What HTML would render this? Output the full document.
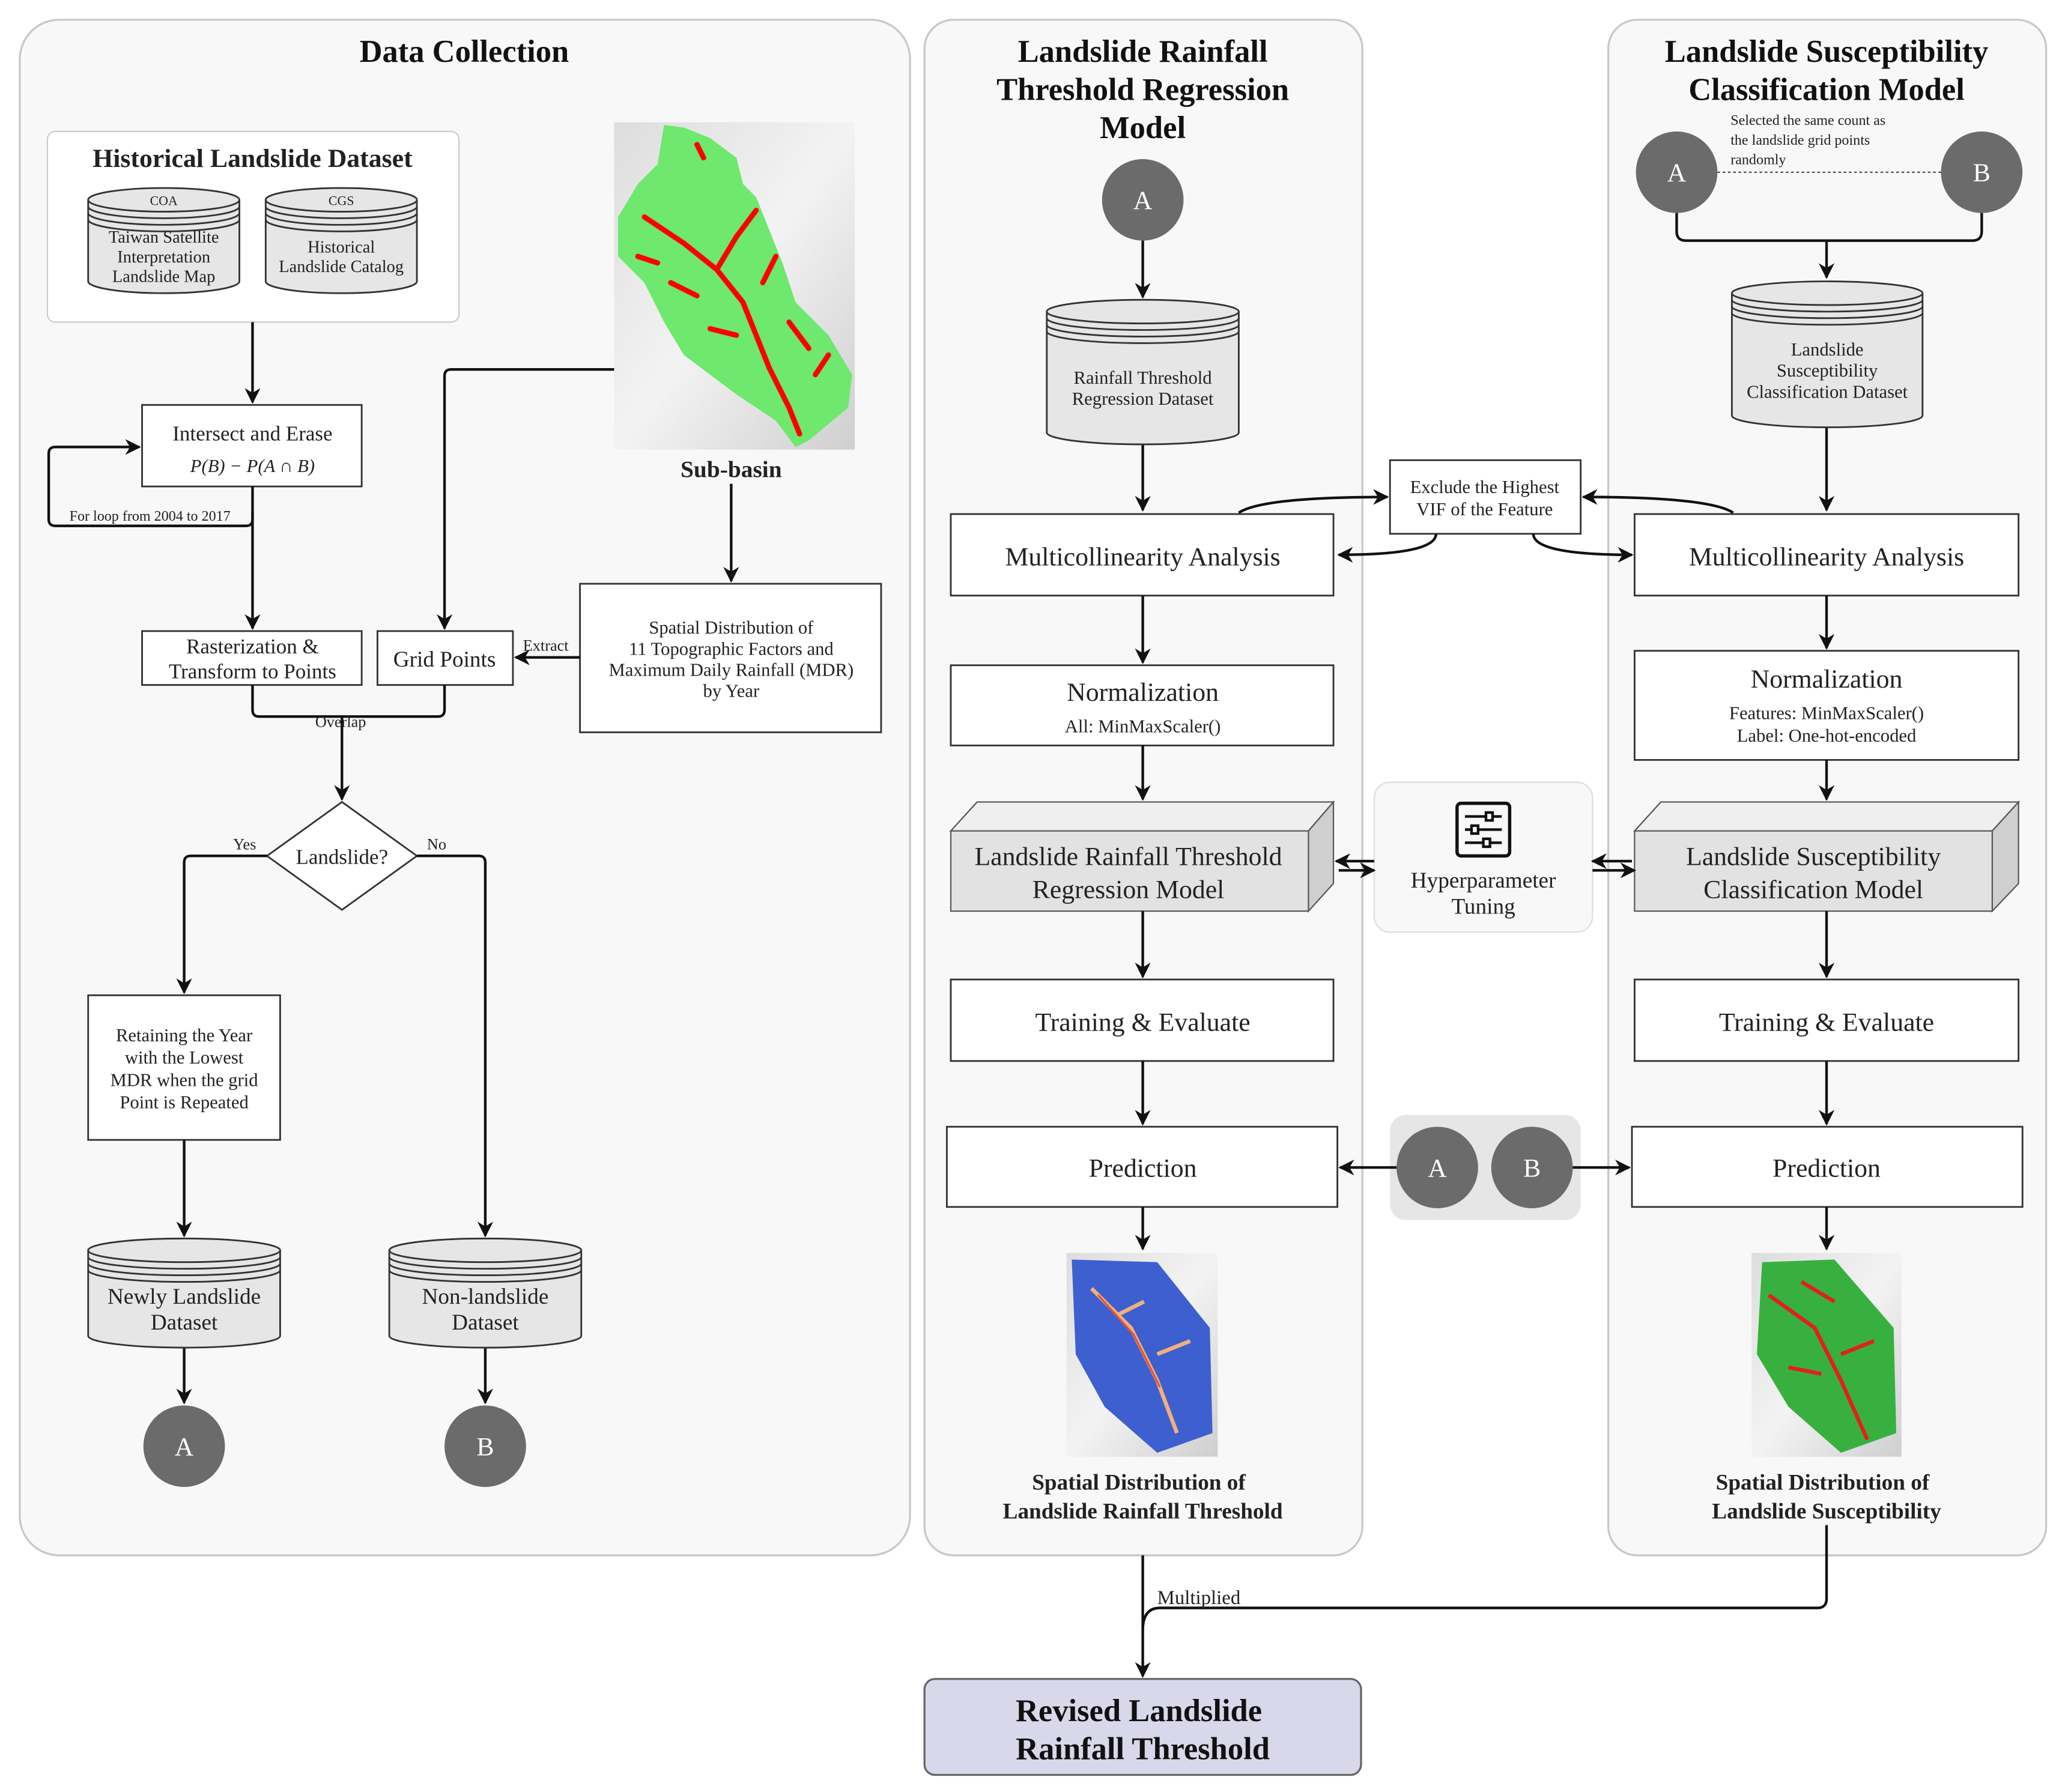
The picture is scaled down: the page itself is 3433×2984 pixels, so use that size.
<!DOCTYPE html>
<html><head><meta charset="utf-8"><style>
html,body{margin:0;padding:0;background:#fff}
svg{display:block}
text{font-family:"Liberation Serif",serif;fill:#222}
.t{font-weight:bold;font-size:24px;text-anchor:middle;fill:#111}
.m{font-size:20px;text-anchor:middle}
.s{font-size:14px;text-anchor:middle}
.xs{font-size:12px;text-anchor:middle}
.b{fill:#fff;stroke:#333;stroke-width:1.3}
.l{fill:none;stroke:#111;stroke-width:2}
.c{fill:#6b6b6b}
.ct{fill:#fff;font-size:20px;text-anchor:middle}
</style></head><body>
<svg width="3433" height="2984" viewBox="0 0 1568 1363" xmlns="http://www.w3.org/2000/svg">
<defs>
<marker id="a" viewBox="0 0 10 10" refX="9" refY="5" markerWidth="6" markerHeight="6" orient="auto-start-reverse"><path d="M0,0 L10,5 L0,10 L3,5z" fill="#111"/></marker>
<linearGradient id="g" x1="0" y1="0" x2="1" y2="1"><stop offset="0" stop-color="#ddd"/><stop offset="0.5" stop-color="#f3f3f3"/><stop offset="1" stop-color="#cfcfcf"/></linearGradient>
</defs>
<!-- panels -->
<rect x="15" y="15" width="677" height="1168" rx="30" fill="#f8f8f8" stroke="#c8c8c8" stroke-width="1.5"/>
<rect x="703" y="15" width="333" height="1168" rx="22" fill="#f8f8f8" stroke="#c8c8c8" stroke-width="1.5"/>
<rect x="1223" y="15" width="333" height="1168" rx="22" fill="#f8f8f8" stroke="#c8c8c8" stroke-width="1.5"/>
<text class="t" x="353" y="47">Data Collection</text>
<text class="t" x="869" y="47">Landslide Rainfall</text>
<text class="t" x="869" y="76">Threshold Regression</text>
<text class="t" x="869" y="105">Model</text>
<text class="t" x="1389" y="47">Landslide Susceptibility</text>
<text class="t" x="1389" y="76">Classification Model</text>

<!-- historical -->
<rect x="36" y="100" width="313" height="145" rx="6" fill="#fff" stroke="#ccc"/>
<text x="192" y="127" style="font-weight:bold;font-size:20px;text-anchor:middle">Historical Landslide Dataset</text>
<g id="cyls"></g>

<!-- sub-basin image -->
<rect x="467" y="93" width="183" height="249" fill="url(#g)"/>
<path d="M505,95 L520,97 L540,105 L560,120 L565,140 L575,150 L585,175 L595,200 L605,230 L630,255 L648,285 L645,310 L615,335 L605,340 L590,320 L560,300 L540,285 L520,270 L505,245 L490,215 L470,195 L470,165 L485,140 L500,125 Z" fill="#6ee86e"/>
<g stroke="#f00" stroke-width="4" fill="none" stroke-linecap="round">
<path d="M490,165 L520,185 L545,205 L565,230 L575,255 L585,280 L600,310 L608,330"/>
<path d="M545,205 L560,180 L575,160"/><path d="M510,215 L530,225"/><path d="M600,245 L615,265"/>
<path d="M540,250 L560,255"/><path d="M580,215 L590,195"/><path d="M620,285 L630,270"/>
<path d="M530,110 L535,120"/><path d="M485,195 L500,200"/>
</g>
<text x="556" y="363" style="font-weight:bold;font-size:18px;text-anchor:middle">Sub-basin</text>

<!-- boxes left -->
<rect class="b" x="108" y="308" width="167" height="62"/>
<text class="s" x="192" y="335" style="font-size:16px">Intersect and Erase</text>
<text class="s" x="192" y="359" style="font-style:italic">P(B) − P(A ∩ B)</text>
<rect class="b" x="108" y="480" width="167" height="41"/>
<text class="s" x="192" y="497" style="font-size:16px">Rasterization &amp;</text>
<text class="s" x="192" y="516" style="font-size:16px">Transform to Points</text>
<rect class="b" x="287" y="480" width="103" height="41"/>
<text class="s" x="338" y="507" style="font-size:17px">Grid Points</text>
<rect class="b" x="441" y="444" width="229" height="113"/>
<text class="s" x="556" y="482">Spatial Distribution of</text>
<text class="s" x="556" y="498">11 Topographic Factors and</text>
<text class="s" x="556" y="514">Maximum Daily Rainfall (MDR)</text>
<text class="s" x="556" y="530">by Year</text>
<polygon points="260,610 317,651 260,692 203,651" fill="#fff" stroke="#333" stroke-width="1.3"/>
<text class="s" x="260" y="657" style="font-size:16px">Landslide?</text>
<rect class="b" x="67" y="757" width="146" height="110"/>
<text class="s" x="140" y="792">Retaining the Year</text>
<text class="s" x="140" y="809">with the Lowest</text>
<text class="s" x="140" y="826">MDR when the grid</text>
<text class="s" x="140" y="843">Point is Repeated</text>

<!-- left connectors -->
<path class="l" d="M192,245 V306" marker-end="url(#a)"/>
<path class="l" d="M192,370 V478" marker-end="url(#a)"/>
<path class="l" d="M192,390 V395 Q192,400 187,400 H42 Q37,400 37,395 V345 Q37,340 42,340 H106" marker-end="url(#a)"/>
<text class="xs" x="114" y="396" style="font-size:11px">For loop from 2004 to 2017</text>
<path class="l" d="M467,281 H343 Q338,281 338,286 V478" marker-end="url(#a)"/>
<path class="l" d="M556,368 V442" marker-end="url(#a)"/>
<path class="l" d="M441,500 H392" marker-end="url(#a)"/>
<text class="xs" x="415" y="495">Extract</text>
<path class="l" d="M192,521 V540 Q192,545 197,545 H333 Q338,545 338,540 V521"/>
<path class="l" d="M260,545 V608" marker-end="url(#a)"/>
<text class="xs" x="259" y="553">Overlap</text>
<path class="l" d="M203,651 H145 Q140,651 140,656 V755" marker-end="url(#a)"/>
<text class="xs" x="186" y="646">Yes</text>
<path class="l" d="M317,651 H364 Q369,651 369,656 V940" marker-end="url(#a)"/>
<text class="xs" x="332" y="646">No</text>
<path class="l" d="M140,867 V940" marker-end="url(#a)"/>
<path class="l" d="M140,1025 V1067" marker-end="url(#a)"/>
<path class="l" d="M369,1025 V1067" marker-end="url(#a)"/>
<circle class="c" cx="140" cy="1100" r="31"/><text class="ct" x="140" y="1107">A</text>
<circle class="c" cx="369" cy="1100" r="31"/><text class="ct" x="369" y="1107">B</text>

<!-- middle -->
<circle class="c" cx="869" cy="152" r="31"/><text class="ct" x="869" y="159">A</text>
<path class="l" d="M869,183 V226" marker-end="url(#a)"/>
<path class="l" d="M869,338 V388" marker-end="url(#a)"/>
<rect class="b" x="723" y="391" width="291" height="62"/>
<text class="m" x="869" y="430">Multicollinearity Analysis</text>
<path class="l" d="M869,453 V504" marker-end="url(#a)"/>
<rect class="b" x="723" y="506" width="291" height="61"/>
<text class="m" x="869" y="533">Normalization</text>
<text class="s" x="869" y="557">All: MinMaxScaler()</text>
<path class="l" d="M869,567 V608" marker-end="url(#a)"/>
<polygon points="723,632 743,610 1014,610 995,632" fill="#efefef" stroke="#555"/>
<polygon points="995,632 1014,610 1014,672 995,693" fill="#cfcfcf" stroke="#555"/>
<rect x="723" y="632" width="272" height="61" fill="#e2e2e2" stroke="#555"/>
<text class="m" x="858" y="658">Landslide Rainfall Threshold</text>
<text class="m" x="858" y="683">Regression Model</text>
<path class="l" d="M869,693 V743" marker-end="url(#a)"/>
<rect class="b" x="723" y="745" width="291" height="62"/>
<text class="m" x="869" y="784">Training &amp; Evaluate</text>
<path class="l" d="M869,807 V855" marker-end="url(#a)"/>
<rect class="b" x="720" y="857" width="297" height="61"/>
<text class="m" x="869" y="895">Prediction</text>
<path class="l" d="M869,918 V950" marker-end="url(#a)"/>
<rect x="811" y="953" width="115" height="155" fill="url(#g)"/>
<path d="M815,958 L880,960 L920,1010 L922,1090 L880,1105 L840,1070 L818,1030 Z" fill="#3e5fd0"/>
<g stroke="#f0b080" stroke-width="3" fill="none"><path d="M830,980 L860,1010 L880,1050 L895,1090"/><path d="M850,1000 L870,990"/><path d="M880,1030 L905,1020"/></g>
<g stroke="#e85030" stroke-width="1.5" fill="none"><path d="M835,985 L862,1015 L882,1055"/></g>
<text x="866" y="1133" style="font-weight:bold;font-size:17px;text-anchor:middle">Spatial Distribution of</text>
<text x="869" y="1155" style="font-weight:bold;font-size:17px;text-anchor:middle">Landslide Rainfall Threshold</text>

<!-- right -->
<circle class="c" cx="1275" cy="131" r="31"/><text class="ct" x="1275" y="138">A</text>
<circle class="c" cx="1507" cy="131" r="31"/><text class="ct" x="1507" y="138">B</text>
<line x1="1306" y1="131" x2="1476" y2="131" stroke="#444" stroke-dasharray="2,2"/>
<text x="1316" y="95" style="font-size:11px">Selected the same count as</text>
<text x="1316" y="110" style="font-size:11px">the landslide grid points</text>
<text x="1316" y="125" style="font-size:11px">randomly</text>
<path class="l" d="M1275,162 V176 Q1275,183 1282,183 H1500 Q1507,183 1507,176 V162"/>
<path class="l" d="M1389,183 V211" marker-end="url(#a)"/>
<path class="l" d="M1389,325 V388" marker-end="url(#a)"/>
<rect class="b" x="1243" y="391" width="292" height="62"/>
<text class="m" x="1389" y="430">Multicollinearity Analysis</text>
<path class="l" d="M1389,453 V493" marker-end="url(#a)"/>
<rect class="b" x="1243" y="495" width="292" height="83"/>
<text class="m" x="1389" y="523">Normalization</text>
<text class="s" x="1389" y="547">Features: MinMaxScaler()</text>
<text class="s" x="1389" y="564">Label: One-hot-encoded</text>
<path class="l" d="M1389,578 V608" marker-end="url(#a)"/>
<polygon points="1243,632 1263,610 1535,610 1515,632" fill="#efefef" stroke="#555"/>
<polygon points="1515,632 1535,610 1535,672 1515,693" fill="#cfcfcf" stroke="#555"/>
<rect x="1243" y="632" width="272" height="61" fill="#e2e2e2" stroke="#555"/>
<text class="m" x="1379" y="658">Landslide Susceptibility</text>
<text class="m" x="1379" y="683">Classification Model</text>
<path class="l" d="M1389,693 V743" marker-end="url(#a)"/>
<rect class="b" x="1243" y="745" width="292" height="62"/>
<text class="m" x="1389" y="784">Training &amp; Evaluate</text>
<path class="l" d="M1389,807 V855" marker-end="url(#a)"/>
<rect class="b" x="1241" y="857" width="297" height="61"/>
<text class="m" x="1389" y="895">Prediction</text>
<path class="l" d="M1389,918 V950" marker-end="url(#a)"/>
<rect x="1332" y="953" width="114" height="155" fill="url(#g)"/>
<path d="M1340,960 L1395,958 L1440,1010 L1442,1090 L1400,1105 L1360,1070 L1336,1030 Z" fill="#38b040"/>
<g stroke="#e02020" stroke-width="3" fill="none"><path d="M1345,985 L1380,1010 L1400,1050 L1420,1095"/><path d="M1370,975 L1395,990"/><path d="M1400,1030 L1425,1020"/><path d="M1360,1040 L1385,1045"/></g>
<text x="1386" y="1133" style="font-weight:bold;font-size:17px;text-anchor:middle">Spatial Distribution of</text>
<text x="1389" y="1155" style="font-weight:bold;font-size:17px;text-anchor:middle">Landslide Susceptibility</text>

<!-- VIF -->
<rect class="b" x="1057" y="350" width="145" height="56"/>
<text class="s" x="1129" y="375">Exclude the Highest</text>
<text class="s" x="1129" y="392">VIF of the Feature</text>
<path class="l" d="M942,390 Q960,378 1055,378" marker-end="url(#a)"/>
<path class="l" d="M1092,406 Q1092,422 1018,422" marker-end="url(#a)"/>
<path class="l" d="M1318,390 Q1300,378 1204,378" marker-end="url(#a)"/>
<path class="l" d="M1166,406 Q1166,422 1241,422" marker-end="url(#a)"/>

<!-- hyperparameter -->
<rect x="1045" y="595" width="166" height="114" rx="12" fill="#f8f8f8" stroke="#ddd"/>
<rect x="1108" y="611" width="40" height="40" rx="3" fill="none" stroke="#111" stroke-width="2.5"/>
<g stroke="#111" stroke-width="2"><line x1="1114" y1="621" x2="1142" y2="621"/><line x1="1114" y1="631" x2="1142" y2="631"/><line x1="1114" y1="641" x2="1142" y2="641"/></g>
<g fill="#fff" stroke="#111" stroke-width="2"><rect x="1130" y="618" width="5" height="6"/><rect x="1119" y="628" width="5" height="6"/><rect x="1128" y="638" width="5" height="6"/></g>
<text class="m" x="1128" y="675" style="font-size:17px">Hyperparameter</text>
<text class="m" x="1128" y="695" style="font-size:17px">Tuning</text>
<path class="l" d="M1045,655 H1016" marker-end="url(#a)"/>
<path class="l" d="M1018,662 H1045" marker-end="url(#a)"/>
<path class="l" d="M1211,662 H1243" marker-end="url(#a)"/>
<path class="l" d="M1241,655 H1211" marker-end="url(#a)"/>

<!-- AB box -->
<rect x="1057" y="848" width="145" height="80" rx="12" fill="#e6e6e6"/>
<circle class="c" cx="1093" cy="888" r="31"/><text class="ct" x="1093" y="895">A</text>
<circle class="c" cx="1165" cy="888" r="31"/><text class="ct" x="1165" y="895">B</text>
<path class="l" d="M1062,888 H1019" marker-end="url(#a)"/>
<path class="l" d="M1196,888 H1239" marker-end="url(#a)"/>

<!-- bottom -->
<path class="l" d="M869,1183 V1275" marker-end="url(#a)"/>
<path class="l" d="M1389,1160 V1216 Q1389,1223 1382,1223 H882 Q869,1223 869,1240"/>
<text x="880" y="1220" style="font-size:15px">Multiplied</text>
<rect x="703" y="1277" width="332" height="73" rx="8" fill="#d9d8ea" stroke="#666" stroke-width="1.5"/>
<text class="t" x="866" y="1309">Revised  Landslide</text>
<text class="t" x="869" y="1338">Rainfall Threshold</text>
</svg>
<script>
(function(){
var NS="http://www.w3.org/2000/svg",svg=document.querySelector('svg');
function el(t,a,p){var e=document.createElementNS(NS,t);for(var k in a)e.setAttribute(k,a[k]);(p||svg).appendChild(e);return e;}
function cyl(x,y,w,h,lines,fs,sub){
 var ry=9,g=el('g',{});
 el('path',{d:'M'+x+','+(y+ry)+' V'+(y+h-ry)+' A'+w/2+','+ry+' 0 0 0 '+(x+w)+','+(y+h-ry)+' V'+(y+ry),fill:'#e6e6e6',stroke:'#333','stroke-width':1.3},g);
 el('ellipse',{cx:x+w/2,cy:y+ry,rx:w/2,ry:ry,fill:'#e6e6e6',stroke:'#333','stroke-width':1.3},g);
 for(var i=1;i<=3;i++)el('path',{d:'M'+x+','+(y+ry+i*5)+' A'+w/2+','+ry+' 0 0 0 '+(x+w)+','+(y+ry+i*5),fill:'none',stroke:'#333','stroke-width':1.3},g);
 if(sub){var t=el('text',{x:x+w/2,y:y+13,'text-anchor':'middle','font-size':10},g);t.textContent=sub;}
 var n=lines.length,lh=fs*1.15,cy=y+ry+15+(h-ry-15)/2;
 lines.forEach(function(s,i){var t=el('text',{x:x+w/2,y:cy+(i-(n-1)/2)*lh+fs*0.35,'text-anchor':'middle','font-size':fs},g);t.textContent=s;});
}
cyl(67,143,115,80,['Taiwan Satellite','Interpretation','Landslide Map'],13,'COA');
cyl(202,143,115,80,['Historical','Landslide Catalog'],13,'CGS');
cyl(796,228,146,110,['Rainfall Threshold','Regression Dataset'],14);
cyl(1317,214,145,111,['Landslide','Susceptibility','Classification Dataset'],14);
cyl(67,942,146,83,['Newly Landslide','Dataset'],17);
cyl(296,942,146,83,['Non-landslide','Dataset'],17);
})();
</script>
</body></html>
